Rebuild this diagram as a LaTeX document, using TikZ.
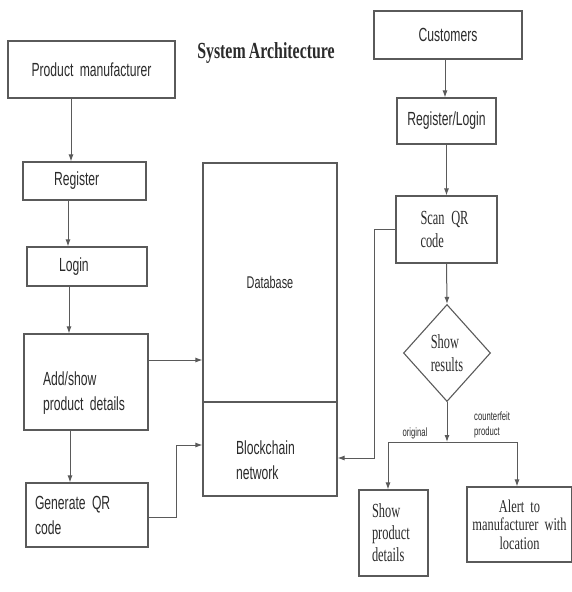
\documentclass[tikz,border=0pt]{standalone}
\usepackage{fontspec}
\setmainfont{Liberation Sans}[FakeStretch=0.64, WordSpace=0.45]
\newfontfamily\narrowserif{Liberation Serif}[FakeStretch=0.62, WordSpace=0.45]
\newfontfamily\alertserif{Liberation Serif}[FakeStretch=0.69, WordSpace=0.5]
\newfontfamily\headserif{Liberation Serif}[FakeStretch=0.69, WordSpace=0.8]
\usetikzlibrary{arrows.meta,shapes.geometric}
\definecolor{linegray}{HTML}{5A5A5A}
\definecolor{textgray}{HTML}{2B2B2B}
\newcommand\padtop{\rule{0pt}{36pt}}
\tikzset{
    box/.style={draw=linegray, line width=1.1pt, text=textgray, inner ysep=0pt,
        font=\fontsize{19}{25}\selectfont},
    serifbox/.style={box, font=\narrowserif\fontsize{20}{23}\selectfont},
    arr/.style={draw=linegray, line width=1pt, -{Latex[length=7pt,width=5pt]}},
    lbl/.style={text=textgray, inner sep=0pt, font=\fontsize{12}{15}\selectfont}
}

\begin{document}
\begin{tikzpicture}[x=1pt,y=-1pt]
        \useasboundingbox (0,0) rectangle (572,592);

        \node [text=textgray, font=\headserif\bfseries\fontsize{23}{25}\selectfont]
            (title) at (266,53) {System Architecture};

        \node [box, minimum height=57pt, text width=125pt, inner xsep=21pt, align=center]
            (maker) at (91.5,69.5) {Product manufacturer};
        \node [box, minimum height=38pt, text width=61pt, inner xsep=31pt, align=left]
            (register) at (84.5,181) {Register};
        \node [box, minimum height=39pt, text width=56pt, inner xsep=32pt, align=left]
            (login) at (87,266.5) {Login};
        \node [box, minimum height=96pt, text width=86pt, inner xsep=19pt, align=left]
            (details) at (86,382) {\padtop Add/show\\product details};
        \node [box, minimum height=64pt, text width=104pt, inner xsep=9pt, align=left]
            (genqr) at (87,515) {Generate QR\\code};

        \node [box, minimum width=134pt, minimum height=239pt, font=\fontsize{17}{18}\selectfont]
            (db) at (270,282.5) {Database};
        \node [box, minimum height=94pt, text width=68pt, inner xsep=33pt, align=left]
            (chain) at (270,449) {\padtop Blockchain\\network};

        \node [box, minimum width=148pt, minimum height=48pt]
            (cust) at (448,35) {Customers};
        \node [box, minimum width=99pt, minimum height=46pt]
            (custlogin) at (446.5,121) {Register/Login};
        \node [serifbox, minimum height=67pt, text width=52pt, inner xsep=24.5pt, align=left]
            (scan) at (446.5,229.5) {Scan QR\\code};
        \node [serifbox, shape=diamond, minimum width=87pt, minimum height=97pt, inner sep=0pt, align=left]
            (result) at (447,353) {Show\\results};
        \coordinate (fork) at (447,442);
        \node [serifbox, font=\narrowserif\fontsize{20}{22}\selectfont,
            minimum height=86pt, text width=43pt, inner xsep=13pt, align=left]
            (showdet) at (393.5,533) {Show\\product\\details};
        \node [serifbox, font=\alertserif\fontsize{18}{18.5}\selectfont,
            minimum height=75pt, text width=97pt, inner xsep=4pt, align=center]
            (alert) at (519.5,524.5) {Alert to\\manufacturer with\\location};

        \node [lbl] (orig) at (415,433) {original};
        \node [lbl, anchor=west, align=left] (fake) at (474,425) {counterfeit\\product};

        \draw[arr] ([xshift=-20.5pt]maker.south) -- ([xshift=-20.5pt]maker.south |- register.north);
        \draw[arr] ([xshift=-16.5pt]register.south) -- ([xshift=-16.5pt]register.south |- login.north);
        \draw[arr] ([xshift=-18pt]login.south) -- ([xshift=-18pt]login.south |- details.north);
        \draw[arr] ([xshift=-16pt]details.south) -- ([xshift=-16pt]details.south |- genqr.north);
        \draw[arr] ([yshift=22pt]details.east) -- ([yshift=22pt]details.east -| db.west);
        \draw[arr] ([yshift=-2pt]genqr.east) -- ++(28,0) |- ([yshift=4pt]chain.west);

        \draw[arr] ([xshift=-3pt]cust.south) -- ([xshift=-3pt]cust.south |- custlogin.north);
        \draw[arr] (custlogin.south) -- (scan.north);
        \draw[arr] (scan.south) -- (result.north);
        \draw[arr] (scan.west) -- ++(-21,0) |- ([yshift=-9pt]chain.east);
        \draw[arr] (result.south) -- (fork);
        \draw[arr] (fork) -| ([xshift=-5.5pt]showdet.north);
        \draw[arr] (fork) -| ([xshift=-2.5pt]alert.north);
    \end{tikzpicture}
\end{document}
